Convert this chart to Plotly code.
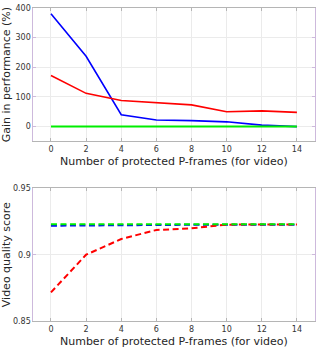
import plotly.graph_objects as go

frames = [0, 2, 4, 6, 8, 10, 12, 14]
gain_blue = [380, 237, 40, 22, 20, 16, 5, 0]
gain_red = [172, 112, 88, 81, 73, 50, 53, 48]
gain_green = [0, 0, 0, 0, 0, 0, 0, 0]

q_blue = [0.9218, 0.9221, 0.9224, 0.9225, 0.9225, 0.9225, 0.9225, 0.9225]
q_red = [0.8717, 0.9000, 0.9118, 0.9186, 0.9198, 0.9226, 0.9227, 0.9227]
q_green = [0.9228, 0.9228, 0.9228, 0.9228, 0.9228, 0.9228, 0.9228, 0.9228]

xticks = [0, 2, 4, 6, 8, 10, 12, 14]
top_yticks = [0, 100, 200, 300, 400]
bot_yticks = [0.85, 0.9, 0.95]
bot_ylabels = ["0.85", "0.9", "0.95"]

FONT = "DejaVu Sans"
DASH = "6px,3.5px"
fig = go.Figure()

fig.add_trace(go.Scatter(x=frames, y=gain_blue, mode="lines", line=dict(color="#0000ff", width=1.6), xaxis="x", yaxis="y"))
fig.add_trace(go.Scatter(x=frames, y=gain_red, mode="lines", line=dict(color="#ff0000", width=1.6), xaxis="x", yaxis="y"))
fig.add_trace(go.Scatter(x=frames, y=gain_green, mode="lines", line=dict(color="#00ee00", width=2), xaxis="x", yaxis="y"))

fig.add_trace(go.Scatter(x=frames, y=q_blue, mode="lines", line=dict(color="#0000ff", width=2, dash=DASH), xaxis="x2", yaxis="y2"))
fig.add_trace(go.Scatter(x=frames, y=q_red, mode="lines", line=dict(color="#ff0000", width=2, dash=DASH), xaxis="x2", yaxis="y2"))
fig.add_trace(go.Scatter(x=frames, y=q_green, mode="lines", line=dict(color="#00ee00", width=2, dash=DASH), xaxis="x2", yaxis="y2"))

xdom = [33.5 / 316, 315.5 / 316]
common_x = dict(range=[-1, 15], tickvals=xticks, showgrid=True, gridcolor="#ebebeb", gridwidth=1,
                showline=True, linecolor="#b5b5b5", linewidth=1, mirror="ticks", ticks="inside",
                ticklen=3, tickcolor="#b5b5b5", zeroline=False,
                tickfont=dict(family=FONT, size=8, color="#333333"),
                title=dict(text="Number of protected P-frames (for video)", font=dict(family=FONT, size=11, color="#262626"), standoff=4))
common_y = dict(showgrid=True, gridcolor="#ebebeb", gridwidth=1, showline=True, linecolor="#cdb9dc",
                linewidth=1, mirror="ticks", ticks="inside", ticklen=3, tickcolor="#cdb9dc", zeroline=False,
                tickfont=dict(family=FONT, size=8, color="#333333"))

fig.update_layout(
    width=316, height=354, margin=dict(l=0, r=0, t=0, b=0),
    paper_bgcolor="white", plot_bgcolor="white", showlegend=False,
    xaxis=dict(domain=xdom, anchor="y", **common_x),
    yaxis=dict(domain=[1 - 141 / 354, 1 - 4 / 354], anchor="x", range=[-50, 400], tickvals=top_yticks,
               title=dict(text="Gain in performance (%)", font=dict(family=FONT, size=11, color="#262626"), standoff=4),
               **common_y),
    xaxis2=dict(domain=xdom, anchor="y2", **common_x),
    yaxis2=dict(domain=[1 - 325.5 / 354, 1 - 189 / 354], anchor="x2", range=[0.85, 0.95], tickvals=bot_yticks,
                ticktext=bot_ylabels,
                title=dict(text="Video quality score", font=dict(family=FONT, size=11, color="#262626"), standoff=4),
                **common_y),
)

fig.write_html("out.html", config={"displayModeBar": False},
               post_script="document.body.style.margin='0';document.body.style.overflow='hidden';")
